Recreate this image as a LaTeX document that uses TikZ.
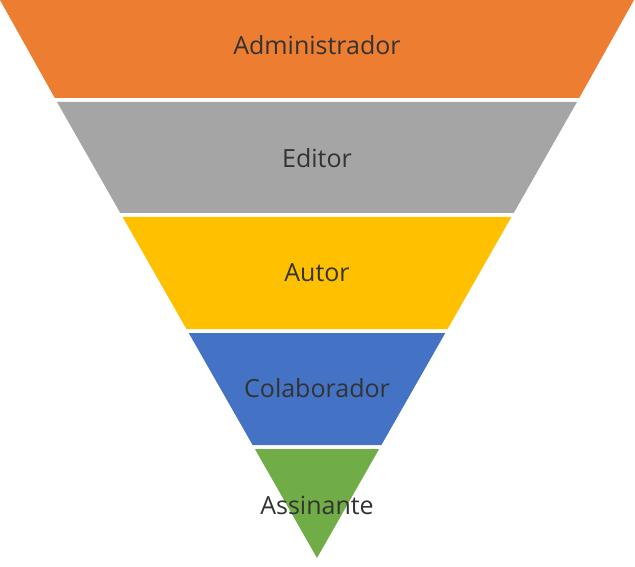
\documentclass[tikz,border=0pt]{standalone}
\usepackage{fontspec}
\setmainfont{Open Sans}
\definecolor{cO}{HTML}{ED7D31}
\definecolor{cG}{HTML}{A5A5A5}
\definecolor{cY}{HTML}{FFC000}
\definecolor{cB}{HTML}{4472C4}
\definecolor{cGr}{HTML}{70AD47}
\definecolor{txt}{HTML}{333333}
\begin{document}
\begin{tikzpicture}[x=1pt,y=-1pt,lbl/.style={text=txt,font=\fontsize{25}{28}\selectfont}]
\useasboundingbox (0,0) rectangle (635,567);
\fill[cO] (0,0) -- (634,0) -- (579.2,98) -- (54.8,98) -- cycle;
\fill[cG] (57,102) -- (577,102) -- (513.7,213) -- (120.3,213) -- cycle;
\fill[cY] (122.6,217) -- (511.4,217) -- (447.6,329) -- (186.4,329) -- cycle;
\fill[cB] (188.7,333) -- (445.3,333) -- (381.4,445) -- (252.6,445) -- cycle;
\fill[cGr] (254.9,449) -- (379.1,449) -- (317,558) -- cycle;
\node[lbl] (a) at (317,45) {Administrador};
\node[lbl] (b) at (317,158) {Editor};
\node[lbl] (c) at (317,273) {Autor};
\node[lbl] (d) at (317,388) {Colaborador};
\node[lbl] (e) at (317,505) {Assinante};
\end{tikzpicture}
\end{document}
